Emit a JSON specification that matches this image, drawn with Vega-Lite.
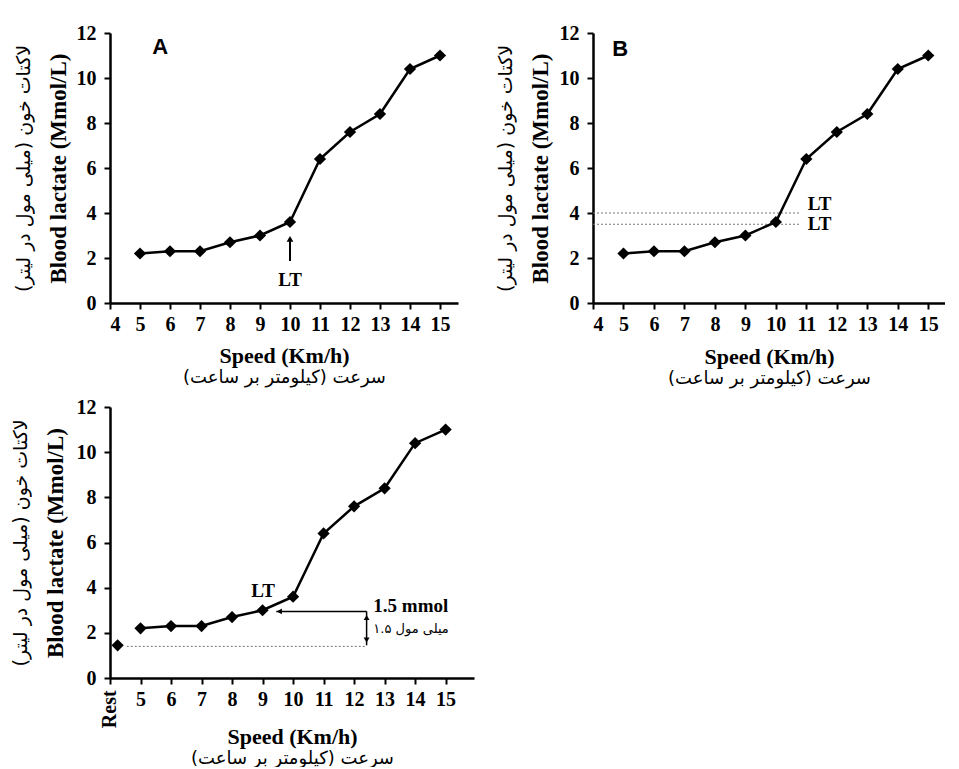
{
  "$schema": "https://vega.github.io/schema/vega-lite/v6.json",
  "padding": {"left": 10, "top": 23, "right": 0, "bottom": 0},
  "background": "white",
  "datasets": {
    "lactate": [
      {"speed": 5, "lactate": 2.2},
      {"speed": 6, "lactate": 2.3},
      {"speed": 7, "lactate": 2.3},
      {"speed": 8, "lactate": 2.7},
      {"speed": 9, "lactate": 3.0},
      {"speed": 10, "lactate": 3.6},
      {"speed": 11, "lactate": 6.4},
      {"speed": 12, "lactate": 7.6},
      {"speed": 13, "lactate": 8.4},
      {"speed": 14, "lactate": 10.4},
      {"speed": 15, "lactate": 11.0}
    ],
    "rest": [{"speed": 4.25, "lactate": 1.45}]
  },
  "config": {
    "view": {"stroke": null},
    "axis": {
      "grid": false,
      "labelFont": "Liberation Serif",
      "labelFontWeight": "bold",
      "labelFontSize": 20,
      "labelColor": "black",
      "labelOverlap": false,
      "titleFont": "Liberation Serif",
      "titleFontWeight": "bold",
      "titleFontSize": 22,
      "titleColor": "black",
      "domainColor": "black",
      "domainWidth": 2.5,
      "tickColor": "black",
      "tickWidth": 2,
      "tickSize": 6,
      "labelPadding": 5
    },
    "axisY": {"labelPadding": 8, "titleFontSize": 23}
  },
  "columns": 2,
  "spacing": {"row": 104, "column": 119},
  "bounds": "flush",
  "concat": [
    {
      "width": 348,
      "height": 270,
      "resolve": {"axis": {"x": "independent", "y": "independent"}},
      "layer": [
        {
          "data": {"name": "lactate"},
          "mark": {"type": "line", "color": "black", "strokeWidth": 2.5},
          "encoding": {
            "x": {"field": "speed", "type": "quantitative", "scale": {"domain": [4, 15.6], "nice": false, "zero": false},
              "axis": {"values": [4, 5, 6, 7, 8, 9, 10, 11, 12, 13, 14, 15], "title": "Speed (Km/h)", "titleY": 52, "titleBaseline": "middle"}},
            "y": {"field": "lactate", "type": "quantitative", "scale": {"domain": [0, 12], "nice": false},
              "axis": {"values": [0, 2, 4, 6, 8, 10, 12], "title": "Blood lactate (Mmol/L)", "titleX": -52, "titleBaseline": "middle"}}
          }
        },
        {
          "data": {"name": "lactate"},
          "mark": {"type": "point", "shape": "diamond", "filled": true, "color": "black", "size": 150, "opacity": 1},
          "encoding": {
            "x": {"field": "speed", "type": "quantitative",
              "axis": {"orient": "bottom", "domain": false, "ticks": false, "labels": false, "title": "سرعت (کیلومتر بر ساعت)", "titleY": 74, "titleBaseline": "middle", "titleFont": "DejaVu Sans", "titleFontWeight": "normal", "titleFontSize": 18}},
            "y": {"field": "lactate", "type": "quantitative",
              "axis": {"orient": "left", "domain": false, "ticks": false, "labels": false, "title": "لاکتات خون (میلی مول در لیتر)", "titleX": -87, "titleBaseline": "middle", "titleFont": "DejaVu Sans", "titleFontWeight": "normal", "titleFontSize": 19}}
          }
        },
        {
          "data": {"values": [{"x": 10, "y": 1.87, "y2": 2.8}]},
          "mark": {"type": "rule", "color": "black", "strokeWidth": 2},
          "encoding": {
            "x": {"field": "x", "type": "quantitative", "axis": null},
            "y": {"field": "y", "type": "quantitative", "axis": null},
            "y2": {"field": "y2"}
          }
        },
        {
          "data": {"values": [{"x": 10, "y": 2.85}]},
          "mark": {"type": "point", "shape": "triangle-up", "filled": true, "color": "black", "size": 45, "opacity": 1},
          "encoding": {
            "x": {"field": "x", "type": "quantitative", "axis": null},
            "y": {"field": "y", "type": "quantitative", "axis": null}
          }
        },
        {
          "data": {"values": [{"x": 10, "y": 1.03, "label": "LT"}]},
          "mark": {"type": "text", "font": "Liberation Serif", "fontWeight": "bold", "fontSize": 19, "color": "black", "baseline": "middle", "align": "center"},
          "encoding": {
            "x": {"field": "x", "type": "quantitative", "axis": null},
            "y": {"field": "y", "type": "quantitative", "axis": null},
            "text": {"field": "label"}
          }
        },
        {
          "data": {"values": [{"x": 5.67, "y": 11.37, "label": "A"}]},
          "mark": {"type": "text", "font": "Liberation Sans", "fontWeight": "bold", "fontSize": 22, "color": "black", "baseline": "middle", "align": "center"},
          "encoding": {
            "x": {"field": "x", "type": "quantitative", "axis": null},
            "y": {"field": "y", "type": "quantitative", "axis": null},
            "text": {"field": "label"}
          }
        }
      ]
    },
    {
      "width": 352,
      "height": 270,
      "resolve": {"axis": {"x": "independent", "y": "independent"}},
      "layer": [
        {
          "data": {"values": [{"x": 4, "x2": 10.8, "y": 4.0}, {"x": 4, "x2": 10.8, "y": 3.5}]},
          "mark": {"type": "rule", "color": "#777777", "strokeWidth": 1, "strokeDash": [2, 2]},
          "encoding": {
            "x": {"field": "x", "type": "quantitative", "axis": null},
            "x2": {"field": "x2"},
            "y": {"field": "y", "type": "quantitative", "axis": null}
          }
        },
        {
          "data": {"name": "lactate"},
          "mark": {"type": "line", "color": "black", "strokeWidth": 2.5},
          "encoding": {
            "x": {"field": "speed", "type": "quantitative", "scale": {"domain": [4, 15.55], "nice": false, "zero": false},
              "axis": {"values": [4, 5, 6, 7, 8, 9, 10, 11, 12, 13, 14, 15], "title": "Speed (Km/h)", "titleY": 53, "titleBaseline": "middle"}},
            "y": {"field": "lactate", "type": "quantitative", "scale": {"domain": [0, 12], "nice": false},
              "axis": {"values": [0, 2, 4, 6, 8, 10, 12], "title": "Blood lactate (Mmol/L)", "titleX": -53, "titleBaseline": "middle"}}
          }
        },
        {
          "data": {"name": "lactate"},
          "mark": {"type": "point", "shape": "diamond", "filled": true, "color": "black", "size": 150, "opacity": 1},
          "encoding": {
            "x": {"field": "speed", "type": "quantitative",
              "axis": {"orient": "bottom", "domain": false, "ticks": false, "labels": false, "title": "سرعت (کیلومتر بر ساعت)", "titleY": 75, "titleBaseline": "middle", "titleFont": "DejaVu Sans", "titleFontWeight": "normal", "titleFontSize": 18}},
            "y": {"field": "lactate", "type": "quantitative",
              "axis": {"orient": "left", "domain": false, "ticks": false, "labels": false, "title": "لاکتات خون (میلی مول در لیتر)", "titleX": -88, "titleBaseline": "middle", "titleFont": "DejaVu Sans", "titleFontWeight": "normal", "titleFontSize": 19}}
          }
        },
        {
          "data": {"values": [{"x": 11.05, "y": 4.42, "label": "LT"}, {"x": 11.05, "y": 3.49, "label": "LT"}]},
          "mark": {"type": "text", "font": "Liberation Serif", "fontWeight": "bold", "fontSize": 19, "color": "black", "baseline": "middle", "align": "left"},
          "encoding": {
            "x": {"field": "x", "type": "quantitative", "axis": null},
            "y": {"field": "y", "type": "quantitative", "axis": null},
            "text": {"field": "label"}
          }
        },
        {
          "data": {"values": [{"x": 4.89, "y": 11.3, "label": "B"}]},
          "mark": {"type": "text", "font": "Liberation Sans", "fontWeight": "bold", "fontSize": 22, "color": "black", "baseline": "middle", "align": "center"},
          "encoding": {
            "x": {"field": "x", "type": "quantitative", "axis": null},
            "y": {"field": "y", "type": "quantitative", "axis": null},
            "text": {"field": "label"}
          }
        }
      ]
    },
    {
      "width": 364,
      "height": 271,
      "resolve": {"axis": {"x": "independent", "y": "independent"}},
      "layer": [
        {
          "data": {"values": [{"x": 4.55, "x2": 12.41, "y": 1.4}]},
          "mark": {"type": "rule", "color": "#777777", "strokeWidth": 1, "strokeDash": [2, 2]},
          "encoding": {
            "x": {"field": "x", "type": "quantitative", "axis": null},
            "x2": {"field": "x2"},
            "y": {"field": "y", "type": "quantitative", "axis": null}
          }
        },
        {
          "data": {"name": "lactate"},
          "mark": {"type": "line", "color": "black", "strokeWidth": 2.5},
          "encoding": {
            "x": {"field": "speed", "type": "quantitative", "scale": {"domain": [4, 15.93], "nice": false, "zero": false},
              "axis": {"values": [4, 5, 6, 7, 8, 9, 10, 11, 12, 13, 14, 15], "title": "Speed (Km/h)", "titleY": 58, "titleBaseline": "middle",
                "labelExpr": "datum.value == 4 ? '' : datum.label"}},
            "y": {"field": "lactate", "type": "quantitative", "scale": {"domain": [0, 12], "nice": false},
              "axis": {"values": [0, 2, 4, 6, 8, 10, 12], "title": "Blood lactate (Mmol/L)", "titleX": -55, "titleBaseline": "middle"}}
          }
        },
        {
          "data": {"name": "lactate"},
          "mark": {"type": "point", "shape": "diamond", "filled": true, "color": "black", "size": 150, "opacity": 1},
          "encoding": {
            "x": {"field": "speed", "type": "quantitative",
              "axis": {"orient": "bottom", "domain": false, "ticks": false, "labels": false, "title": "سرعت (کیلومتر بر ساعت)", "titleY": 80, "titleBaseline": "middle", "titleFont": "DejaVu Sans", "titleFontWeight": "normal", "titleFontSize": 18}},
            "y": {"field": "lactate", "type": "quantitative",
              "axis": {"orient": "left", "domain": false, "ticks": false, "labels": false, "title": "لاکتات خون (میلی مول در لیتر)", "titleX": -90, "titleBaseline": "middle", "titleFont": "DejaVu Sans", "titleFontWeight": "normal", "titleFontSize": 19}}
          }
        },
        {
          "data": {"name": "rest"},
          "mark": {"type": "point", "shape": "diamond", "filled": true, "color": "black", "size": 150, "opacity": 1},
          "encoding": {
            "x": {"field": "speed", "type": "quantitative", "axis": null},
            "y": {"field": "lactate", "type": "quantitative", "axis": null}
          }
        },
        {
          "data": {"values": [{"x": 4, "y": -0.55, "label": "Rest"}]},
          "mark": {"type": "text", "font": "Liberation Serif", "fontWeight": "bold", "fontSize": 20, "color": "black", "baseline": "middle", "align": "right", "angle": 270},
          "encoding": {
            "x": {"field": "x", "type": "quantitative", "axis": null},
            "y": {"field": "y", "type": "quantitative", "axis": null},
            "text": {"field": "label"}
          }
        },
        {
          "data": {"values": [{"x": 9.45, "x2": 12.41, "y": 2.95, "y2": 2.95}, {"x": 12.41, "x2": 12.41, "y": 1.45, "y2": 2.95}]},
          "mark": {"type": "rule", "color": "black", "strokeWidth": 1.5},
          "encoding": {
            "x": {"field": "x", "type": "quantitative", "axis": null},
            "x2": {"field": "x2"},
            "y": {"field": "y", "type": "quantitative", "axis": null},
            "y2": {"field": "y2"}
          }
        },
        {
          "data": {"values": [{"x": 9.55, "y": 2.95, "dir": "triangle-left"}, {"x": 12.41, "y": 2.68, "dir": "triangle-up"}, {"x": 12.41, "y": 1.68, "dir": "triangle-down"}]},
          "mark": {"type": "point", "filled": true, "color": "black", "size": 35, "opacity": 1},
          "encoding": {
            "x": {"field": "x", "type": "quantitative", "axis": null},
            "y": {"field": "y", "type": "quantitative", "axis": null},
            "shape": {"field": "dir", "type": "nominal", "scale": {"domain": ["triangle-left", "triangle-up", "triangle-down"], "range": ["triangle-left", "triangle-up", "triangle-down"]}, "legend": null}
          }
        },
        {
          "data": {"values": [{"x": 9.02, "y": 3.84, "label": "LT"}]},
          "mark": {"type": "text", "font": "Liberation Serif", "fontWeight": "bold", "fontSize": 19, "color": "black", "baseline": "middle", "align": "center"},
          "encoding": {
            "x": {"field": "x", "type": "quantitative", "axis": null},
            "y": {"field": "y", "type": "quantitative", "axis": null},
            "text": {"field": "label"}
          }
        },
        {
          "data": {"values": [{"x": 12.63, "y": 3.17, "label": "1.5 mmol"}]},
          "mark": {"type": "text", "font": "Liberation Serif", "fontWeight": "bold", "fontSize": 19, "color": "black", "baseline": "middle", "align": "left"},
          "encoding": {
            "x": {"field": "x", "type": "quantitative", "axis": null},
            "y": {"field": "y", "type": "quantitative", "axis": null},
            "text": {"field": "label"}
          }
        },
        {
          "data": {"values": [{"x": 12.63, "y": 2.15, "label": "۱.۵ میلی مول"}]},
          "mark": {"type": "text", "font": "DejaVu Sans", "fontSize": 13, "color": "black", "baseline": "middle", "align": "left"},
          "encoding": {
            "x": {"field": "x", "type": "quantitative", "axis": null},
            "y": {"field": "y", "type": "quantitative", "axis": null},
            "text": {"field": "label"}
          }
        }
      ]
    }
  ]
}
